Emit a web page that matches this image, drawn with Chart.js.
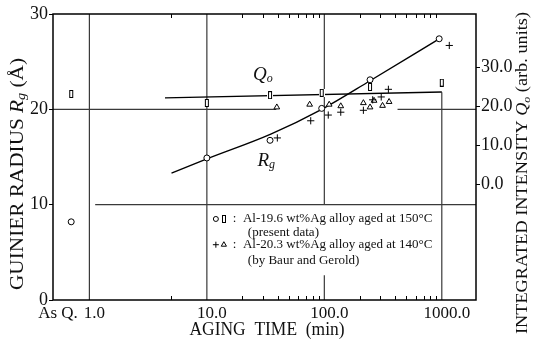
<!DOCTYPE html>
<html>
<head>
<meta charset="utf-8">
<script src="https://cdn.jsdelivr.net/npm/chart.js@4.4.1/dist/chart.umd.min.js"></script>
<style>
  html, body { margin: 0; padding: 0; background: #fff; }
</style>
</head>
<body>
<canvas id="mychart" width="536" height="341"></canvas>
<script>
// aging time (min); the "As Q." specimens sit left of 1.0
const rgPresentTime = [0.7, 10, 34.5, 95, 245, 950];
const rgPresent     = [8.2, 14.9, 16.75, 20.1, 23.1, 27.4];
const qPresentTime  = [0.7, 10, 34.5, 95, 245, 1000];
const qPresent      = [23.1, 20.8, 22.8, 23.4, 24.9, 26.0];

// Baur and Gerold
const rgBaurTime = [39.8, 76.6, 108, 138, 215, 258, 305, 351, 1158];
const rgBaur     = [17.0, 18.8, 19.4, 19.7, 19.9, 21.0, 21.3, 22.1, 26.7];
const qBaurTime  = [39.4, 75, 110, 138, 215, 245, 265, 313, 356];
const qBaur      = [19.7, 20.4, 20.4, 20.0, 20.8, 19.7, 21.4, 20.1, 21.1];

// hand drawn curves
const rgFitTime = [5, 10, 35, 95, 245, 950];
const rgFit     = [13.3, 14.8, 17.4, 20.0, 23.0, 27.4];
const qFitTime  = [4.4, 1000];
const qFit      = [22.1, 23.6];

// ticks
const xMajorTicks  = [1, 10, 100, 1000];
const xMajorLabels = ['1.0', '10.0', '100.0', '1000.0'];
const xMinorTicks  = [5, 20, 30, 40, 50, 60, 70, 80, 90, 200, 300, 400, 500, 600, 700, 800, 900];
const asQLabel     = 'As Q.';
const rgTicks      = [0, 10, 20, 30];
const qTicks       = [0, 10, 20, 30];

const X_MIN = 0.49, X_MAX = 1955;

const SERIF = "'Liberation Serif', 'DejaVu Serif', serif";
Chart.defaults.font.family = SERIF;
Chart.defaults.color = '#111';

function pts(xs, ys) {
  return xs.map((x, i) => ({ x: x, y: ys[i] }));
}

// tall open rectangle used for the Q marks
function tallRect() {
  const c = document.createElement('canvas');
  c.width = 6; c.height = 8;
  const g = c.getContext('2d');
  g.fillStyle = '#fff';
  g.fillRect(0, 0, 6, 8);
  g.strokeStyle = '#000';
  g.lineWidth = 1;
  g.strokeRect(1.5, 0.5, 3, 7);
  return c;
}
const rectMark = tallRect();

const markBase = {
  showLine: false,
  borderColor: '#000',
  backgroundColor: '#fff',
  borderWidth: 1,
};

// text pieces one after another (italic symbols with subscripts), scaled to a width
function drawRich(ctx, pieces, cx, cy, fitW) {
  let total = 0;
  pieces.forEach(p => { ctx.font = p.font; p.w = ctx.measureText(p.t).width; total += p.w; });
  const k = fitW ? fitW / total : 1;
  ctx.save();
  ctx.translate(cx, cy);
  ctx.scale(k, 1);
  let x = -total / 2;
  ctx.textBaseline = 'middle';
  ctx.textAlign = 'left';
  pieces.forEach(p => {
    ctx.font = p.font;
    ctx.fillText(p.t, x, p.dy || 0);
    x += p.w;
  });
  ctx.restore();
}

// grid segments in data units (the original leaves gaps around the marks and legend)
const gridPlugin = {
  id: 'gridSegs',
  beforeDatasetsDraw(chart) {
    const ctx = chart.ctx;
    const a = chart.chartArea;
    const xs = chart.scales.x, ys = chart.scales.y;
    const hSegs = [[20, X_MIN, 39], [20, 420, X_MAX], [10, 1.12, X_MAX]];
    const vSegs = [[1, 0, 30], [10, 0, 30], [100, 0, 2.6], [100, 10, 30], [1000, 0, 21.8]];
    ctx.save();
    ctx.strokeStyle = '#3a3a3a';
    ctx.lineWidth = 1.2;
    ctx.beginPath();
    hSegs.forEach(s => {
      const y = ys.getPixelForValue(s[0]);
      ctx.moveTo(Math.max(a.left, xs.getPixelForValue(s[1])), y);
      ctx.lineTo(Math.min(a.right, xs.getPixelForValue(s[2])), y);
    });
    vSegs.forEach(s => {
      const x = xs.getPixelForValue(s[0]);
      ctx.moveTo(x, ys.getPixelForValue(s[1]));
      ctx.lineTo(x, ys.getPixelForValue(s[2]));
    });
    ctx.stroke();
    ctx.restore();
  }
};

const extras = {
  id: 'extras',
  afterDraw(chart) {
    const ctx = chart.ctx;
    const a = chart.chartArea;
    const xs = chart.scales.x, ys = chart.scales.y;
    ctx.save();
    ctx.strokeStyle = '#000';
    ctx.fillStyle = '#111';

    // frame
    ctx.lineWidth = 1.5;
    ctx.strokeRect(a.left, a.top, a.right - a.left, a.bottom - a.top);

    // inward minor ticks top and bottom
    ctx.lineWidth = 1;
    xMinorTicks.forEach(v => {
      const px = Math.round(xs.getPixelForValue(v)) + 0.5;
      ctx.beginPath();
      ctx.moveTo(px, a.bottom); ctx.lineTo(px, a.bottom - 4);
      ctx.moveTo(px, a.top); ctx.lineTo(px, a.top + 4);
      ctx.stroke();
    });

    // axis titles
    const big = '18px ' + SERIF, bigI = 'italic 18px ' + SERIF, subI = 'italic 12px ' + SERIF;
    ctx.save();
    ctx.translate(18, 174);
    ctx.rotate(-Math.PI / 2);
    drawRich(ctx, [
      { t: 'GUINIER RADIUS ', font: big },
      { t: 'R', font: bigI },
      { t: 'g', font: subI, dy: 4 },
      { t: ' (Å)', font: big },
    ], 0, 0, 232);
    ctx.restore();

    ctx.save();
    ctx.translate(523, 173);
    ctx.rotate(-Math.PI / 2);
    drawRich(ctx, [
      { t: 'INTEGRATED INTENSITY ', font: '17px ' + SERIF },
      { t: 'Q', font: 'italic 17px ' + SERIF },
      { t: 'o', font: 'italic 11px ' + SERIF, dy: 4 },
      { t: ' (arb. units)', font: '17px ' + SERIF },
    ], 0, 0, 322);
    ctx.restore();

    drawRich(ctx, [{ t: 'AGING  TIME  (min)', font: big }], 267, 330, 155);

    // curve labels
    drawRich(ctx, [
      { t: 'Q', font: 'italic 19px ' + SERIF },
      { t: 'o', font: 'italic 12px ' + SERIF, dy: 4 },
    ], xs.getPixelForValue(30), ys.getPixelForValue(23.6));
    drawRich(ctx, [
      { t: 'R', font: 'italic 19px ' + SERIF },
      { t: 'g', font: 'italic 12px ' + SERIF, dy: 4 },
    ], xs.getPixelForValue(32), ys.getPixelForValue(14.6));

    // legend block
    const lx = xs.getPixelForValue(10);
    ctx.font = '13px ' + SERIF;
    ctx.textBaseline = 'middle';
    ctx.textAlign = 'left';
    const rows = [
      { y: ys.getPixelForValue(8.5), sym: ['circle', 'rect'], t: ':  Al-19.6 wt%Ag alloy aged at 150°C' },
      { y: ys.getPixelForValue(7.05), t: '(present data)', indent: 41 },
      { y: ys.getPixelForValue(5.8), sym: ['cross', 'triangle'], t: ':  Al-20.3 wt%Ag alloy aged at 140°C' },
      { y: ys.getPixelForValue(4.15), t: '(by Baur and Gerold)', indent: 41 },
    ];
    rows.forEach(r => {
      if (r.sym) {
        r.sym.forEach((s, i) => {
          const px = lx + 9 + i * 8;
          if (s === 'rect') {
            ctx.drawImage(rectMark, Math.round(px) - 3, Math.round(r.y) - 4);
          } else {
            ctx.save();
            ctx.fillStyle = '#fff';
            Chart.helpers.drawPoint(ctx, { pointStyle: s, radius: s === 'circle' ? 2.5 : 3, borderWidth: 1 }, px, r.y);
            ctx.restore();
          }
        });
        ctx.fillText(r.t, lx + 26, r.y, 206);
      } else {
        ctx.fillText(r.t, lx + r.indent, r.y);
      }
    });
    ctx.restore();
  }
};

const data = {
  datasets: [
    { ...markBase, label: 'Rg present', data: pts(rgPresentTime, rgPresent), yAxisID: 'y', pointStyle: 'circle', pointRadius: 3 },
    { ...markBase, label: 'Q present', data: pts(qPresentTime, qPresent), yAxisID: 'y1', pointStyle: rectMark, pointRadius: 4 },
    { ...markBase, label: 'Rg Baur', data: pts(rgBaurTime, rgBaur), yAxisID: 'y', pointStyle: 'cross', pointRadius: 3.6 },
    { ...markBase, label: 'Q Baur', data: pts(qBaurTime, qBaur), yAxisID: 'y1', pointStyle: 'triangle', pointRadius: 3.3 },
    { label: 'Rg curve', data: pts(rgFitTime, rgFit), yAxisID: 'y', showLine: true, borderColor: '#000', borderWidth: 1.4,
      pointRadius: 0, cubicInterpolationMode: 'monotone' },
    { label: 'Q line', data: pts(qFitTime, qFit), yAxisID: 'y1', showLine: true, borderColor: '#000', borderWidth: 1.4,
      pointRadius: 0 },
  ]
};

const options = {
  responsive: false,
  animation: false,
  devicePixelRatio: 1,
  layout: { padding: { top: 14, left: 0, right: 0, bottom: 0 } },
  plugins: { legend: { display: false }, tooltip: { enabled: false } },
  scales: {
    x: {
      type: 'logarithmic',
      min: X_MIN,
      max: X_MAX,
      afterBuildTicks: s => { s.ticks = [X_MIN].concat(xMajorTicks).map(v => ({ value: v })); },
      afterFit: s => { s.height = 41; },
      border: { display: false },
      grid: { drawOnChartArea: false, drawTicks: false },
      ticks: {
        autoSkip: false,
        maxRotation: 0,
        padding: 3,
        labelOffset: 5,
        font: { size: 17 },
        callback: v => v === X_MIN ? asQLabel : xMajorLabels[xMajorTicks.indexOf(v)],
      },
    },
    y: {
      type: 'linear',
      position: 'left',
      min: 0,
      max: 30,
      afterBuildTicks: s => { s.ticks = rgTicks.map(v => ({ value: v })); },
      afterFit: s => { s.width = 53; },
      border: { display: false },
      grid: { drawOnChartArea: false, tickColor: '#000', tickLength: 4 },
      ticks: { padding: 1, font: { size: 18 }, callback: v => String(v) },
    },
    y1: {
      type: 'linear',
      position: 'right',
      min: -29.7,
      max: 43.6,
      afterBuildTicks: s => { s.ticks = qTicks.map(v => ({ value: v })); },
      afterFit: s => { s.width = 60; },
      border: { display: false },
      grid: { drawOnChartArea: false, tickColor: '#000', tickLength: 4 },
      ticks: { padding: 1, font: { size: 18 }, callback: v => v.toFixed(1) },
    },
  },
};

const ctx = document.getElementById('mychart');
const myChart = new Chart(ctx, { type: 'scatter', data: data, options: options, plugins: [gridPlugin, extras] });
</script>
</body>
</html>
